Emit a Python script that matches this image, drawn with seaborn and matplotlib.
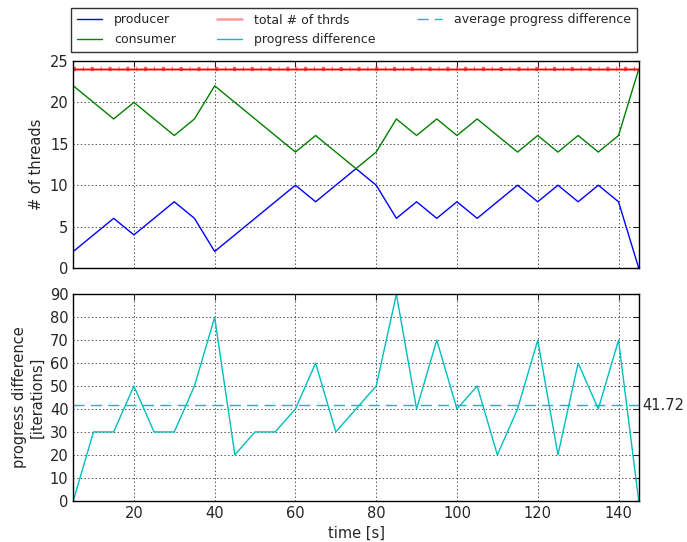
import numpy as np
import pandas as pd
import matplotlib
matplotlib.use("Agg")
import matplotlib.pyplot as plt
import seaborn as sns

time = [5, 10, 15, 20, 25, 30, 35, 40, 45, 50, 55, 60, 65, 70, 75, 80, 85, 90,
        95, 100, 105, 110, 115, 120, 125, 130, 135, 140, 145]
producer = [2, 4, 6, 4, 6, 8, 6, 2, 4, 6, 8, 10, 8, 10, 12, 10, 6, 8, 6, 8, 6,
            8, 10, 8, 10, 8, 10, 8, 0]
consumer = [22, 20, 18, 20, 18, 16, 18, 22, 20, 18, 16, 14, 16, 14, 12, 14, 18,
            16, 18, 16, 18, 16, 14, 16, 14, 16, 14, 16, 24]
total = [24] * len(time)
progress = [0, 30, 30, 50, 30, 30, 50, 80, 20, 30, 30, 40, 60, 30, 40, 50, 90,
            40, 70, 40, 50, 20, 40, 70, 20, 60, 40, 70, 0]
avg_progress = 41.72

sns.set_style("white")
plt.rcParams["font.family"] = ["DejaVu Sans"]
plt.rcParams["font.size"] = 10.5
plt.rcParams["xtick.direction"] = "in"
plt.rcParams["ytick.direction"] = "in"
plt.rcParams["lines.scale_dashes"] = False

fig = plt.figure(figsize=(6.87, 5.42), dpi=100)
ax1 = fig.add_axes([0.1067, 0.5055, 0.8230, 0.3820])
ax2 = fig.add_axes([0.1067, 0.0762, 0.8230, 0.3808])

df = pd.DataFrame({"time": time, "producer": producer, "consumer": consumer,
                   "total": total, "progress": progress})

sns.lineplot(data=df, x="time", y="producer", color="b", lw=1, ax=ax1, label="producer")
sns.lineplot(data=df, x="time", y="consumer", color="g", lw=1, ax=ax1, label="consumer")
sns.lineplot(data=df, x="time", y="total", color="r", lw=1.8, alpha=0.4, ax=ax1,
             label="total # of thrds")
sns.lineplot(data=df, x="time", y="total", color="r", lw=1, ax=ax1)
sns.lineplot(data=df, x="time", y="total", color="r", lw=3.2, alpha=0.6, ax=ax1)
ax1.lines[-1].set_dashes([2.2, 4.9, 0.8, 4.9])

sns.lineplot(data=df, x="time", y="progress", color="c", lw=1, ax=ax2,
             label="progress difference")
ax2.axhline(avg_progress, color="c", lw=1, ls=(0, (8, 4.5)), label="average progress difference")
ax2.text(1.007, avg_progress, f"{avg_progress:.2f}", transform=ax2.get_yaxis_transform(),
         va="center", ha="left", fontsize=10.5)

for ax in (ax1, ax2):
    ax.set_xlim(5, 145)
    ax.set_xticks([20, 40, 60, 80, 100, 120, 140])
    ax.grid(True, color="k", ls=":", lw=0.6, alpha=0.8)
    ax.tick_params(which="both", top=True, right=True, length=4, width=0.8, labelsize=10.5)
    for s in ax.spines.values():
        s.set_color("k")
        s.set_linewidth(1)

ax1.set_ylim(0, 25)
ax1.set_yticks([0, 5, 10, 15, 20, 25])
ax1.set_xticklabels([])
ax1.set_xlabel("")
ax1.set_ylabel("# of threads", fontsize=10.5)

ax2.set_ylim(0, 90)
ax2.set_yticks(range(0, 91, 10))
ax2.set_xlabel("time [s]", fontsize=10.5)
ax2.set_ylabel("progress difference\n[iterations]", fontsize=10.5)

h1, l1 = ax1.get_legend_handles_labels()
h2, l2 = ax2.get_legend_handles_labels()
handles = h1 + h2
labels = l1 + l2
ax1.get_legend().remove()
ax2.get_legend().remove()
order = ["producer", "consumer", "total # of thrds", "progress difference",
         "average progress difference"]
hm = dict(zip(labels, handles))
W, H = 687.0, 542.0
leg = fig.legend([hm[k] for k in order], order, ncol=3, loc="lower left",
                 bbox_to_anchor=(71 / W, 1 - 52 / H, (637 - 71) / W, 43 / H),
                 mode="expand", frameon=True, fancybox=False,
                 fontsize=9, handlelength=2.0, handletextpad=1.0,
                 borderaxespad=0, borderpad=0.45, labelspacing=0.55)
leg.get_frame().set_edgecolor("k")
leg.get_frame().set_linewidth(1)

fig.savefig("out.png", dpi=100, facecolor="white")
